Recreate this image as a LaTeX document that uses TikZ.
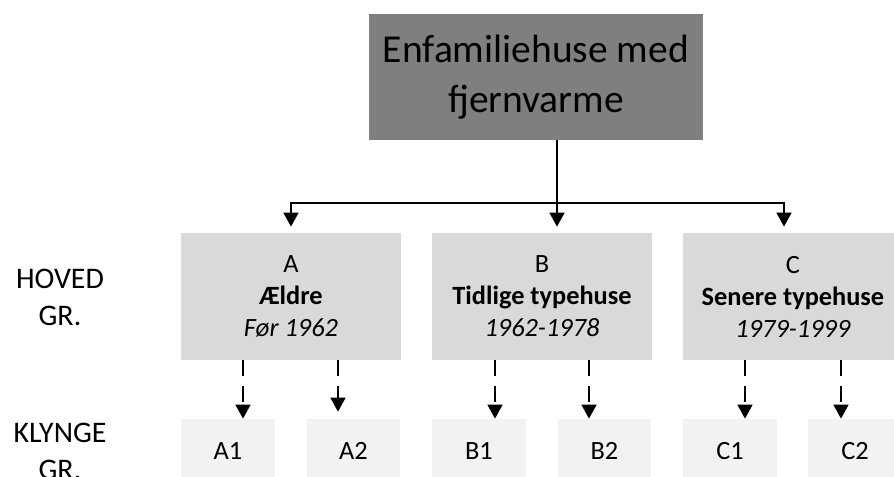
\documentclass[tikz,border=0pt]{standalone}
\usepackage{fontspec}
\setmainfont{Carlito}
\usetikzlibrary{arrows.meta, positioning, calc}
\definecolor{topgray}{HTML}{7F7F7F}
\definecolor{groupgray}{HTML}{D9D9D9}
\definecolor{clustergray}{HTML}{F2F2F2}

\begin{document}
\begin{tikzpicture}[
        x=0.02cm, y=-0.02cm,
        topbox/.style={fill=topgray, minimum width=6.68cm, minimum height=2.52cm, inner sep=0pt, align=center, font=\fontsize{22.5}{28.4}\selectfont},
        groupbox/.style={fill=groupgray, minimum width=4.4cm, minimum height=2.54cm, inner sep=0pt, align=center, font=\fontsize{15}{18.2}\selectfont},
        clusterbox/.style={fill=clustergray, minimum width=1.88cm, minimum height=1.28cm, inner sep=0pt, font=\fontsize{15}{18.2}\selectfont},
        rowlabel/.style={align=center, font=\fontsize{17}{21}\selectfont},
        arrow/.style={-{Triangle[width=8.5pt, length=8pt]}, line width=1.1pt},
        dasharrow/.style={arrow, dash pattern=on 9.1pt off 5.7pt}
    ]
        \useasboundingbox (0,0) rectangle (894,477);
        \clip (0,0) rectangle (894,477);

        % Top node
        \node[topbox] (top) at (536,77) {Enfamiliehuse med\\fjernvarme};

        % Main groups
        \node[groupbox] (A) at (291,296.5) {A\\\textbf{Ældre}\\\textit{Før 1962}};
        \node[groupbox] (B) at (542,296.5) {B\\\textbf{Tidlige typehuse}\\\textit{1962-1978}};
        \node[groupbox] (C) at (793,296.5) {C\\\textbf{Senere typehuse}\\\textit{1979-1999}};

        % Clusters
        \node[clusterbox] (A1) at (228,451) {A1};
        \node[clusterbox] (A2) at (353.5,451) {A2};
        \node[clusterbox] (B1) at (479,451) {B1};
        \node[clusterbox] (B2) at (604.5,451) {B2};
        \node[clusterbox] (C1) at (730,451) {C1};
        \node[clusterbox] (C2) at (855,451) {C2};

        % Row labels
        \node[rowlabel] (hoved) at (60,297) {HOVED\\GR.};
        \node[rowlabel] (klynge) at (60,451) {KLYNGE\\GR.};

        % Arrows - top to groups
        \coordinate (split) at ($(top.south)+(21,63)$);
        \coordinate (cturn) at ($(C.north)+(-9,0)$);
        \draw[arrow, shorten >=0.12cm] ($(top.south)+(21,0)$) -- (split |- B.north);
        \draw[arrow, shorten >=0.12cm] (split) -- (split -| A.north) -- (A.north);
        \draw[arrow, shorten >=0.12cm] (split) -- (split -| cturn) -- (cturn);

        % Arrows - groups to clusters
        \coordinate (a1top) at ($(A.south)+(-48,0)$);
        \coordinate (a2top) at ($(A.south)+(47,0)$);
        \coordinate (b1top) at ($(B.south)+(-47,0)$);
        \coordinate (b2top) at ($(B.south)+(47,0)$);
        \coordinate (c1top) at ($(C.south)+(-48,0)$);
        \coordinate (c2top) at ($(C.south)+(48,0)$);
        \draw[dasharrow] (a1top) -- (a1top |- A1.north);
        \draw[dasharrow, shorten >=0.14cm] (a2top) -- (a2top |- A2.north);
        \draw[dasharrow] (b1top) -- (b1top |- B1.north);
        \draw[dasharrow] (b2top) -- (b2top |- B2.north);
        \draw[dasharrow] (c1top) -- (c1top |- C1.north);
        \draw[dasharrow] (c2top) -- (c2top |- C2.north);
    \end{tikzpicture}
\end{document}
